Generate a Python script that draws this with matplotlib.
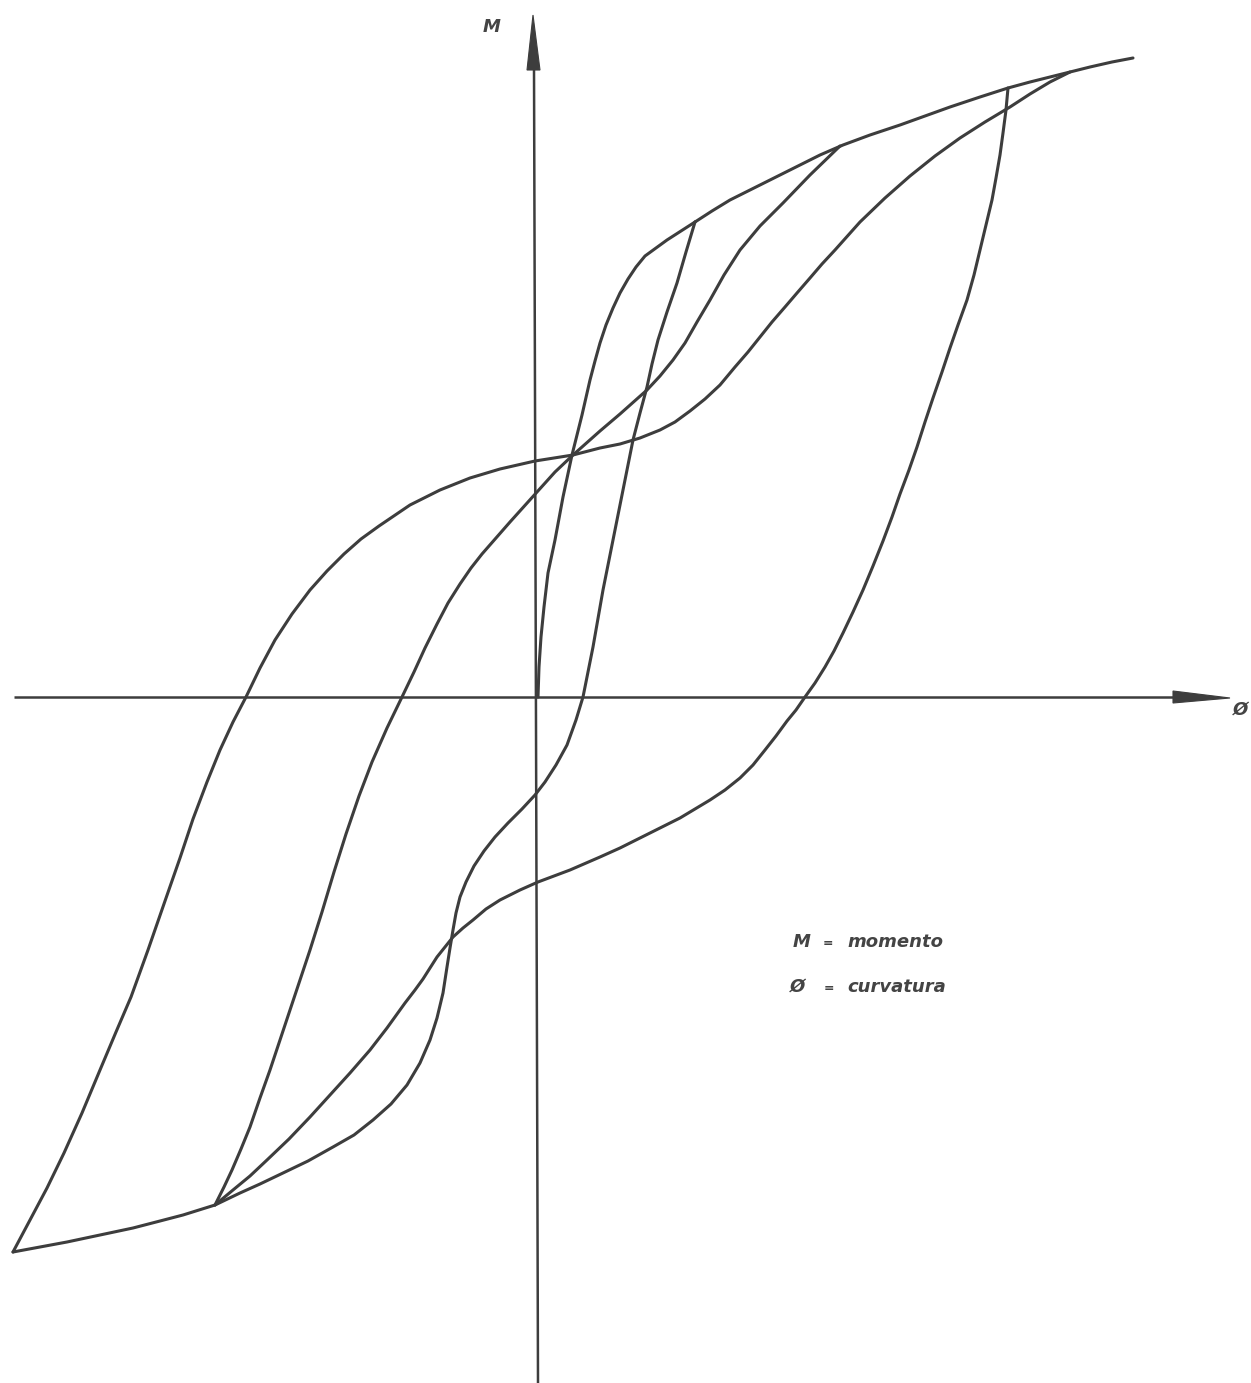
import matplotlib.pyplot as plt
from matplotlib.patches import Polygon

# moment-curvature hysteresis, curvature (phi) on x, moment (M) on y
# arbitrary units, origin at the crossing of the axes

# first loading from the origin up to the first peak
load_phi = [0, 1, 3, 6, 10, 17, 25, 34, 44, 52, 57, 62, 68, 75, 82, 90, 98, 107,
            118, 129, 143, 157]
load_m = [0, 30, 60, 90, 124, 157, 200, 242, 282, 317, 336, 354, 372, 389, 404, 418,
          430, 441, 449, 457, 466, 475]

# upper envelope beyond the first peak
env_phi = [157, 174, 192, 222, 242, 262, 282, 305, 332, 362, 387, 412, 442, 470,
           492, 512, 532, 552, 574, 595]
env_m = [475, 486, 497, 512, 522, 532, 542, 552, 562, 572, 581, 590, 600, 609,
         615, 620, 625, 630, 635, 639]

# unloading from the first peak down to the first negative peak
unl1_phi = [157, 148, 139, 129, 120, 114, 109, 102, 95, 85, 75, 65, 55, 50, 45, 38,
            29, 18, 7, -3, -16, -30, -43, -54, -64, -72, -78, -82, -85, -88, -91,
            -95, -101, -108, -118, -131, -147, -165, -184, -205, -230, -255, -278,
            -298, -323]
unl1_m = [475, 445, 414, 385, 357, 333, 310, 284, 257, 207, 157, 107, 50, 25, 0, -23,
          -48, -68, -85, -98, -112, -126, -140, -154, -169, -185, -200, -216, -233,
          -251, -270, -296, -321, -343, -366, -388, -407, -423, -438, -450, -464,
          -476, -487, -496, -508]

# reloading from the first negative peak to the second peak
rel1_phi = [-323, -314, -306, -297, -288, -278, -268, -258, -248, -238, -228, -216,
            -204, -192, -179, -166, -151, -136, -124, -113, -101, -90, -78, -67, -56,
            -42, -28, -1, 17, 35, 62, 82, 109, 122, 135, 147, 159, 172, 186, 202,
            222, 245, 272, 302]
rel1_m = [-508, -490, -473, -452, -430, -401, -373, -343, -313, -283, -253, -215,
          -175, -137, -99, -65, -31, 0, 25, 49, 73, 94, 113, 129, 143,
          159, 175, 205, 225, 242, 266, 283, 307, 321, 337, 354, 375, 397, 422, 447,
          471, 494, 522, 551]

# unloading from the largest peak down to the outer negative peak
unl2_phi = [470, 468, 465, 462, 458, 454, 448, 442, 436, 429, 420, 412, 404, 395,
            387, 379, 371, 362, 354, 345, 335, 325, 315, 305, 296, 287, 277, 267,
            258, 249, 238, 227, 215, 202, 187, 172, 157, 142, 122, 102, 82, 62, 32, 0,
            -18, -38, -52, -65, -75, -85, -93, -101, -108, -115, -123, -133, -151,
            -168, -188, -208, -228, -249, -271, -288, -305, -323, -355, -378, -405,
            -438, -471, -498, -525]
unl2_m = [609, 587, 564, 542, 519, 497, 472, 447, 422, 397, 372, 349, 325, 299,
          275, 250, 227, 203, 180, 156, 131, 107, 85, 64, 46, 30, 14, 0,
          -13, -24, -39, -53, -68, -81, -93, -103, -112, -121, -131, -141, -151, -160,
          -173, -185, -193, -203, -212, -223, -231, -240, -250, -260, -271, -282, -293,
          -306, -331, -353, -376, -398, -420, -442, -463, -479, -493, -508, -518, -524,
          -531, -538, -545, -550, -555]

# reloading from the outer negative peak
rel2_phi = [-525, -508, -491, -474, -456, -438, -422, -407, -390, -373, -358, -345,
            -331, -318, -305, -292, -278, -263, -246, -228, -211, -194, -177, -159,
            -128, -98, -68, -38, -3, 35, 62, 82, 102, 122, 137, 152, 167, 182, 197,
            210, 222, 234, 247, 259, 272, 284, 297, 322, 347, 372, 397, 422, 447, 472,
            492, 512, 532]
rel2_m = [-555, -523, -491, -456, -416, -373, -335, -300, -253, -204, -161, -122,
          -85, -53, -25, 0, 29, 57, 83, 107, 126, 143, 158, 171,
          192, 207, 219, 228, 236, 242, 249, 253, 259, 267, 275, 286, 298, 312, 330,
          345, 360, 375, 390, 404, 419, 433, 447, 475, 499, 521, 541, 559, 575, 590,
          603, 615, 625]

curves = [
    (load_phi, load_m),
    (env_phi, env_m),
    (unl1_phi, unl1_m),
    (rel1_phi, rel1_m),
    (unl2_phi, unl2_m),
    (rel2_phi, rel2_m),
]

ink = '#3d3d3d'

fig = plt.figure(figsize=(12.51, 13.83), dpi=100)
ax = fig.add_axes([0, 0, 1, 1])
ax.set_xlim(-538, 713)
ax.set_ylim(-686, 697)
ax.axis('off')

# axes drawn by hand, with long narrow arrow heads
ax.plot([-524, 640], [0, 0], color=ink, lw=1.8, solid_capstyle='butt')
ax.plot([0, -4], [-686, 630], color=ink, lw=1.8, solid_capstyle='butt')
ax.add_patch(Polygon([(-11, 627), (2, 627), (-5, 682)], closed=True,
                     color=ink, lw=0.8))
ax.add_patch(Polygon([(635, 6), (635, -6), (692, -1)], closed=True,
                     color=ink, lw=0.8))

for phi, m in curves:
    ax.plot(phi, m, color=ink, lw=2.2, solid_joinstyle='round',
            solid_capstyle='round')

lab = dict(color='#444444', family='DejaVu Sans', weight='bold', style='italic')
ax.text(-46, 670, 'M', fontsize=13, ha='center', va='center', **lab)
ax.text(702, -13, 'Ø', fontsize=13, ha='center', va='center', **lab)

ax.text(264, -250, 'M', fontsize=13, ha='center', va='baseline', **lab)
ax.text(290, -250, '=', fontsize=9, ha='center', va='baseline', **lab)
ax.text(309, -250, 'momento', fontsize=13, ha='left', va='baseline', **lab)
ax.text(259, -295, 'Ø', fontsize=13, ha='center', va='baseline', **lab)
ax.text(291, -295, '=', fontsize=9, ha='center', va='baseline', **lab)
ax.text(309, -295, 'curvatura', fontsize=13, ha='left', va='baseline', **lab)

fig.savefig('out.png', dpi=100, facecolor='white')
